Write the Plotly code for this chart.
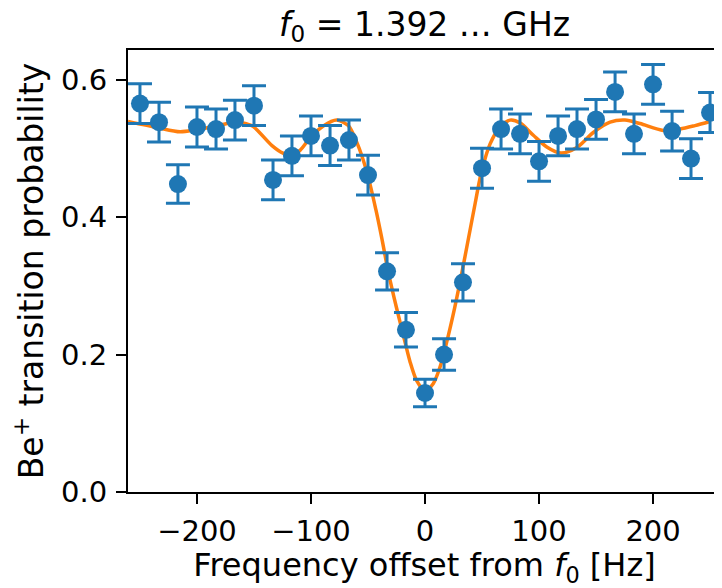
import plotly.graph_objects as go

# Measured data (frequency offset in Hz, transition probability, error)
freq_hz = [-250.0, -233.3, -216.7, -200.0, -183.3, -166.7, -150.0, -133.3, -116.7, -100.0,
           -83.3, -66.7, -50.0, -33.3, -16.7, 0.0, 16.7, 33.3, 50.0, 66.7,
           83.3, 100.0, 116.7, 133.3, 150.0, 166.7, 183.3, 200.0, 216.7, 233.3, 250.0]
prob = [0.565, 0.538, 0.448, 0.531, 0.528, 0.541, 0.562, 0.454, 0.489, 0.518,
        0.504, 0.512, 0.461, 0.321, 0.236, 0.144, 0.200, 0.305, 0.471, 0.528,
        0.521, 0.481, 0.518, 0.528, 0.542, 0.582, 0.521, 0.593, 0.525, 0.485, 0.552]
prob_err = [0.029, 0.029, 0.028, 0.029, 0.029, 0.029, 0.029, 0.029, 0.029, 0.029,
            0.029, 0.029, 0.029, 0.027, 0.025, 0.020, 0.023, 0.027, 0.029, 0.029,
            0.029, 0.029, 0.029, 0.029, 0.029, 0.029, 0.029, 0.029, 0.029, 0.029, 0.029]

# Fit curve
fit_hz = [-260.5, -234.5, -214.9, -200.9, -184.2, -167.8, -159.6, -150.9, -134.2, -124.6,
          -117.5, -109.6, -100.9, -89.5, -77.5, -67.3, -59.9, -50.9, -43.0, -38.0,
          -32.2, -25.0, -19.0, -13.2, -7.3, 0.0, 7.3, 13.2, 19.0, 26.0,
          32.2, 38.0, 44.0, 49.0, 57.0, 65.8, 74.6, 83.3, 95.0, 106.8,
          119.3, 133.1, 147.6, 162.3, 175.4, 188.6, 209.0, 223.7, 236.8, 250.0]
fit_prob = [0.539, 0.530, 0.524, 0.527, 0.532, 0.538, 0.537, 0.532, 0.504, 0.493,
            0.490, 0.497, 0.515, 0.532, 0.541, 0.533, 0.509, 0.465, 0.410, 0.370,
            0.320, 0.268, 0.228, 0.190, 0.162, 0.147, 0.158, 0.182, 0.218, 0.268,
            0.318, 0.368, 0.420, 0.462, 0.506, 0.531, 0.541, 0.537, 0.519, 0.502,
            0.493, 0.501, 0.523, 0.538, 0.541, 0.536, 0.526, 0.528, 0.533, 0.539]

x_ticks = [-200, -100, 0, 100, 200]
y_ticks = [0.0, 0.2, 0.4, 0.6]

BLUE = "#1f77b4"
ORANGE = "#ff7f0e"
FONT = "DejaVu Sans"
TICK_FS = 29

fig = go.Figure()
fig.add_trace(go.Scatter(
    x=fit_hz, y=fit_prob, mode="lines",
    line=dict(color=ORANGE, width=3.5, shape="spline", smoothing=0.8),
    showlegend=False, hoverinfo="skip"))
fig.add_trace(go.Scatter(
    x=freq_hz, y=prob, mode="markers",
    marker=dict(color=BLUE, size=18),
    error_y=dict(type="data", array=prob_err, visible=True,
                 color=BLUE, thickness=3, width=12),
    showlegend=False))

# page body has an 8px margin, so the figure is sized to the visible area
fig.update_layout(
    width=714, height=580,
    margin=dict(l=120, r=1, t=42, b=96, autoexpand=False),
    paper_bgcolor="white", plot_bgcolor="white",
    font=dict(family=FONT, size=TICK_FS, color="black"),
    title=dict(text="<i>f</i><sub>0</sub> = 1.392 … GHz",
               x=0.5, xref="paper", xanchor="center",
               y=1 - 16 / 580, yanchor="middle",
               font=dict(family=FONT, size=33, color="black")),
)
fig.update_xaxes(
    range=[-260.5, 259.6], tickvals=x_ticks,
    ticktext=[("−" + str(abs(v))) if v < 0 else str(v) for v in x_ticks],
    ticks="outside", ticklen=10, tickwidth=2, tickcolor="black",
    ticklabelstandoff=2,
    showline=True, linecolor="black", linewidth=2, mirror=True,
    showgrid=False, zeroline=False, automargin=False,
    title=dict(text="Frequency offset from <i>f</i><sub>0</sub> [Hz]",
               font=dict(family=FONT, size=32), standoff=4),
)
fig.update_yaxes(
    range=[0, 0.643], tickvals=y_ticks, tickformat=".1f",
    ticks="outside", ticklen=10, tickwidth=2, tickcolor="black",
    ticklabelstandoff=3,
    showline=True, linecolor="black", linewidth=2, mirror=True,
    showgrid=False, zeroline=False, automargin=False,
    title=dict(text="Be<sup>+</sup> transition probability",
               font=dict(family=FONT, size=33), standoff=8),
)

fig.write_html("out.html")
